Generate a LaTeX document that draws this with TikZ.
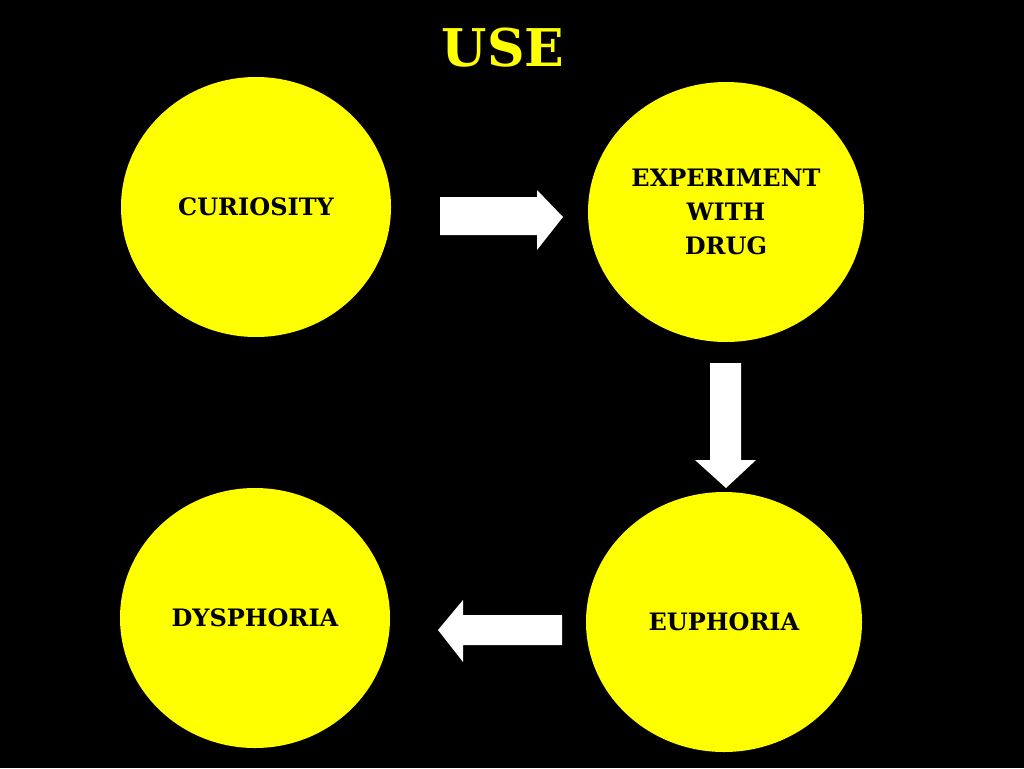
\documentclass[tikz,border=0pt]{standalone}
\usepackage{fontspec}
\setmainfont{DejaVu Serif}
\usetikzlibrary{shapes.geometric}
\definecolor{yel}{RGB}{255,255,0}
\begin{document}
\begin{tikzpicture}[x=1pt,y=-1pt,
  circ/.style={ellipse,fill=yel,minimum width=#1,minimum height=260,inner sep=0pt,align=center,font=\bfseries\fontsize{24}{34}\selectfont},
  blockarrow/.style={fill=white}]
\fill[black] (0,0) rectangle (1024,768);
\useasboundingbox (0,0) rectangle (1024,768);
\node[text=yel,font=\bfseries\fontsize{52}{60}\selectfont] (title) at (503,48) {USE};
\node[circ=270] (cur) at (256,207) {CURIOSITY};
\node[circ=276] (exp) at (726,212) {EXPERIMENT\\WITH\\DRUG};
\node[circ=270] (dys) at (255,618) {DYSPHORIA};
\node[circ=276] (eup) at (724,622) {EUPHORIA};
\fill[blockarrow] (440,197) -- (537,197) -- (537,190) -- (563,217) -- (537,250) -- (537,235) -- (440,235) -- cycle;
\fill[blockarrow] (710,363) -- (741,363) -- (741,460) -- (756,460) -- (726,488) -- (695,460) -- (710,460) -- cycle;
\fill[blockarrow] (562,615) -- (463,615) -- (463,600) -- (438,630) -- (463,662) -- (463,645) -- (562,645) -- cycle;
\end{tikzpicture}
\end{document}
